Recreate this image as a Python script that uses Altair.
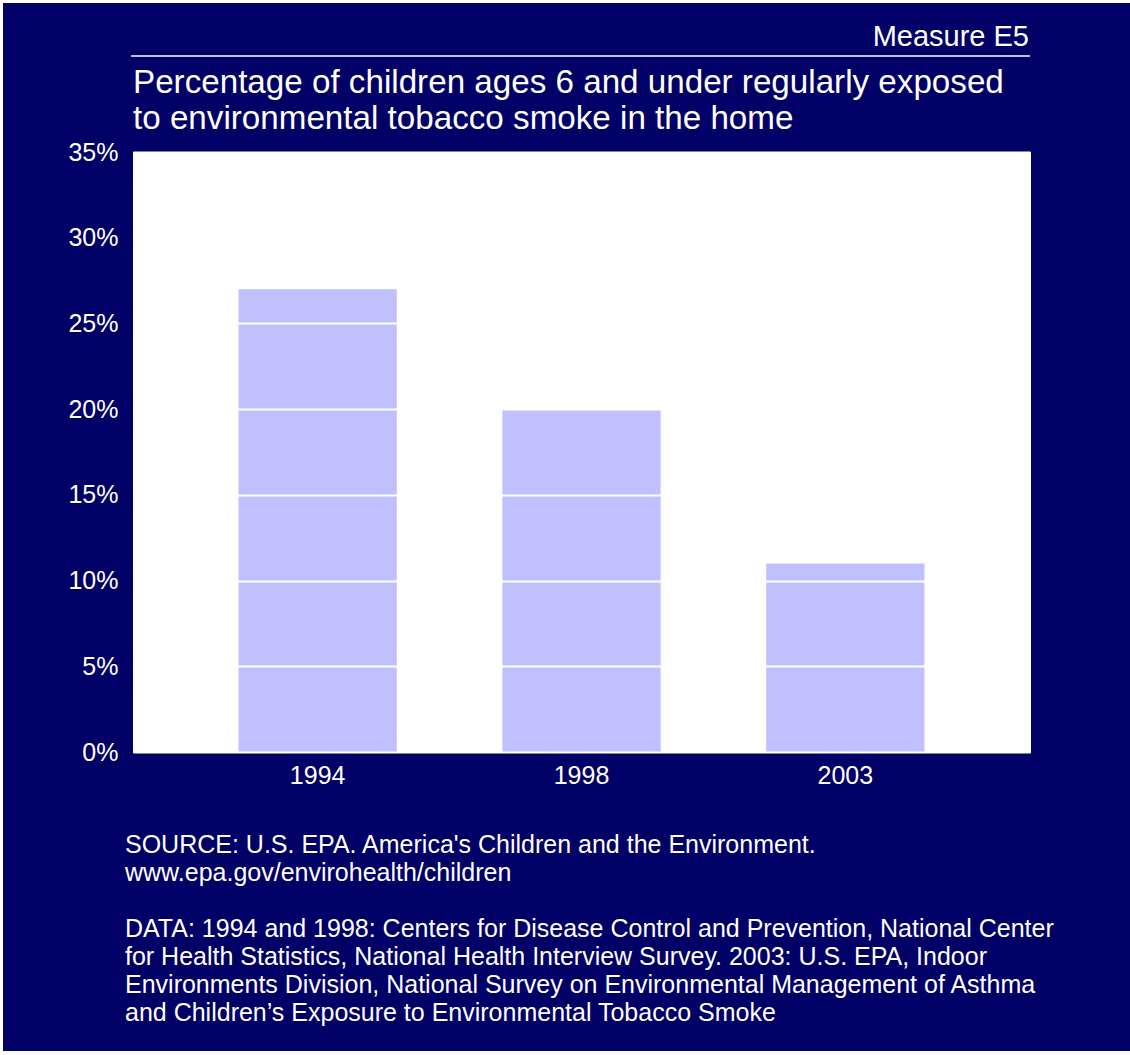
import altair as alt
import pandas as pd

# ---- data ----
years = ["1994", "1998", "2003"]
percent = [27, 20, 11]
y_ticks = [0, 5, 10, 15, 20, 25, 30, 35]

header_text = "Measure E5"
title_lines = [
    "Percentage of children ages 6 and under regularly exposed",
    "to environmental tobacco smoke in the home",
]
source_lines = [
    "SOURCE: U.S. EPA. America's Children and the Environment.",
    "www.epa.gov/envirohealth/children",
]
data_lines = [
    "DATA: 1994 and 1998: Centers for Disease Control and Prevention, National Center",
    "for Health Statistics, National Health Interview Survey. 2003: U.S. EPA, Indoor",
    "Environments Division, National Survey on Environmental Management of Asthma",
    "and Children\u2019s Exposure to Environmental Tobacco Smoke",
]

NAVY = "#000066"
BAR = "#C0C0FF"
FONT = "Liberation Sans"
W, H = 897, 600

df = pd.DataFrame({"year": years, "pct": [p / 100 for p in percent]})
one = alt.Data(values=[{"k": 1}])

frame = alt.Chart(one).mark_rect(color=NAVY).encode(
    x=alt.value(-130), x2=alt.value(1000), y=alt.value(-149), y2=alt.value(899)
)
panel = alt.Chart(one).mark_rect(color="white").encode(
    x=alt.value(0), x2=alt.value(W + 1), y=alt.value(0), y2=alt.value(H + 1)
)

bars = alt.Chart(df).mark_bar(color=BAR).encode(
    x=alt.X(
        "year:N",
        sort=years,
        scale=alt.Scale(paddingInner=0.4, paddingOuter=0.4),
        axis=alt.Axis(
            title=None, labelAngle=0, ticks=False, domain=False, grid=False,
            labelFontSize=25, labelColor="white", labelFont=FONT,
            labelPadding=11, zindex=1,
        ),
    ),
    y=alt.Y(
        "pct:Q",
        scale=alt.Scale(domain=[0, 0.35], nice=False),
        axis=alt.Axis(
            title=None, values=[t / 100 for t in y_ticks], format=".0%",
            ticks=False, domain=False, grid=True, gridColor="white",
            gridWidth=2, gridOpacity=1, zindex=1,
            labelFontSize=25, labelColor="white", labelFont=FONT,
            labelPadding=15,
        ),
    ),
)

header = alt.Chart(alt.Data(values=[{"t": header_text}])).mark_text(
    align="right", baseline="alphabetic", fontSize=29, font=FONT, color="white"
).encode(x=alt.value(896), y=alt.value(-106), text="t:N")

header_rule = alt.Chart(one).mark_rule(color="white", strokeWidth=1.5).encode(
    x=alt.value(-2), x2=alt.value(W), y=alt.value(-96)
)

title = alt.Chart(alt.Data(values=[{"t": "\n".join(title_lines)}])).mark_text(
    align="left", baseline="alphabetic", fontSize=33.2, font=FONT, color="white",
    lineBreak="\n", lineHeight=36,
).encode(x=alt.value(0), y=alt.value(-59), text="t:N")

source = alt.Chart(alt.Data(values=[{"t": "\n".join(source_lines)}])).mark_text(
    align="left", baseline="alphabetic", fontSize=25, font=FONT, color="white",
    lineBreak="\n", lineHeight=28,
).encode(x=alt.value(-8), y=alt.value(701), text="t:N")

data_note = alt.Chart(alt.Data(values=[{"t": "\n".join(data_lines)}])).mark_text(
    align="left", baseline="alphabetic", fontSize=25, font=FONT, color="white",
    lineBreak="\n", lineHeight=28,
).encode(x=alt.value(-8), y=alt.value(785), text="t:N")

chart = (
    alt.layer(frame, panel, bars, header, header_rule, title, source, data_note)
    .properties(
        width=W,
        height=H,
        padding={"left": 133, "top": 152, "right": 100, "bottom": 303},
        autosize=alt.AutoSizeParams(type="none"),
    )
    .configure(background="white")
    .configure_view(stroke=None)
)

chart.save("out.html", embed_options={"renderer": "svg", "actions": False})
